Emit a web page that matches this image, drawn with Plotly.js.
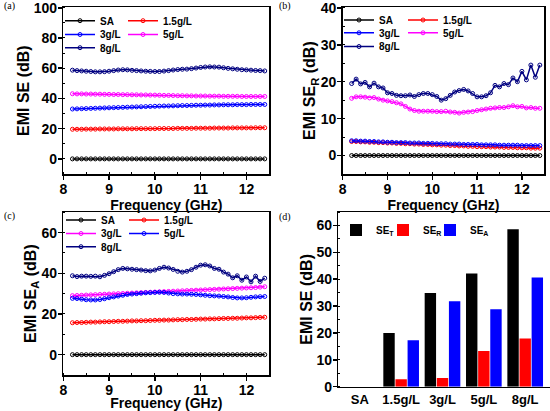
<!DOCTYPE html>
<html><head><meta charset="utf-8">
<script src="https://cdn.plot.ly/plotly-3.0.1.min.js"></script>
<style>html,body{margin:0;padding:0;background:#fff}#chart{width:550px;height:411px}</style>
</head><body><div id="chart"></div>
<script>
// ---- data ----
const freq = [8.2,8.3,8.4,8.5,8.6,8.7,8.8,8.9,9.0,9.1,
  9.2,9.3,9.4,9.5,9.6,9.7,9.8,9.9,10.0,10.1,
  10.2,10.3,10.4,10.5,10.6,10.7,10.8,10.9,11.0,11.1,
  11.2,11.3,11.4,11.5,11.6,11.7,11.8,11.9,12.0,12.1,
  12.2,12.3,12.4];
const seZeroSA = [0,0,0,0,0,0,0,0,0,0, 0,0,0,0,0,0,0,0,0,0, 0,0,0,0,0,0,0,0,0,0, 0,0,0,0,0,0,0,0,0,0, 0,0,0];

// (a) total EMI SE
const aSE15 = [19.6,19.6,19.6,19.7,19.7,19.7,19.8,19.8,19.8,19.8,
  19.9,19.9,19.9,19.9,20.0,20.0,20.0,20.0,20.0,20.1,
  20.1,20.1,20.1,20.2,20.2,20.2,20.2,20.3,20.3,20.3,
  20.3,20.4,20.4,20.4,20.4,20.5,20.5,20.5,20.5,20.5,
  20.6,20.6,20.6];
const aSE3 = [33.0,33.1,33.2,33.3,33.4,33.5,33.6,33.7,33.8,33.9,
  34.0,34.1,34.2,34.3,34.4,34.5,34.6,34.7,34.8,34.9,
  35.0,35.0,35.1,35.2,35.3,35.3,35.4,35.5,35.5,35.6,
  35.6,35.7,35.7,35.8,35.8,35.8,35.9,35.9,35.9,36.0,
  36.0,36.0,36.0];
const aSE5 = [43.1,43.0,43.0,42.9,42.9,42.8,42.8,42.7,42.7,42.6,
  42.6,42.5,42.5,42.4,42.4,42.3,42.3,42.2,42.2,42.1,
  42.0,42.0,41.9,41.8,41.8,41.7,41.7,41.6,41.6,41.6,
  41.5,41.5,41.5,41.4,41.4,41.4,41.4,41.3,41.3,41.3,
  41.3,41.3,41.3];
const aSE8 = [58.7,58.4,58.2,58.0,57.8,57.6,57.6,57.7,58.0,58.4,
  58.8,59.0,58.9,58.6,58.4,58.2,58.0,57.9,57.8,57.8,
  58.1,58.4,58.8,59.1,59.3,59.4,59.7,60.1,60.5,60.8,
  60.9,60.8,60.7,60.3,59.9,59.6,59.3,59.0,58.9,58.7,
  58.5,58.4,58.2];

// (b) SE_R
const bSER15 = [3.8,3.8,3.7,3.7,3.6,3.6,3.5,3.5,3.4,3.4,
  3.3,3.3,3.2,3.2,3.1,3.1,3.0,3.0,2.9,2.9,
  2.8,2.8,2.7,2.7,2.6,2.6,2.5,2.5,2.4,2.4,
  2.4,2.3,2.3,2.3,2.2,2.2,2.2,2.1,2.1,2.1,
  2.0,2.0,2.0];
const bSER3 = [4.0,4.0,3.9,3.9,3.8,3.8,3.7,3.7,3.6,3.6,
  3.5,3.5,3.5,3.4,3.4,3.4,3.3,3.3,3.3,3.2,
  3.2,3.2,3.1,3.1,3.1,3.0,3.0,3.0,3.0,2.9,
  2.9,2.9,2.9,2.8,2.8,2.8,2.8,2.8,2.7,2.7,
  2.7,2.7,2.7];
const bSER5 = [15.5,15.9,15.9,15.8,15.6,15.7,15.3,15.0,14.8,14.6,
  14.3,14.0,13.3,12.6,12.2,12.0,12.0,12.0,12.0,11.9,
  11.9,12.0,11.8,11.7,11.5,11.7,11.8,11.9,12.2,12.4,
  12.6,12.8,12.9,13.0,13.0,13.2,13.5,13.2,13.3,12.9,
  13.0,12.8,12.8];
const bSER8 = [19.5,20.7,19.4,19.8,18.6,19.6,18.6,18.3,17.0,16.8,
  16.3,16.2,16.2,16.4,16.0,16.5,16.8,16.8,16.5,16.0,
  15.0,15.4,16.3,17.2,17.6,17.9,17.5,16.8,15.9,15.9,
  16.2,17.0,19.0,18.6,19.5,19.2,21.0,20.0,22.8,20.5,
  24.5,21.2,24.5];

// (c) SE_A
const cSEA15 = [15.7,15.8,15.8,15.9,16.0,16.0,16.1,16.2,16.2,16.3,
  16.4,16.4,16.5,16.6,16.6,16.7,16.7,16.8,16.9,16.9,
  17.0,17.0,17.1,17.2,17.2,17.3,17.3,17.4,17.5,17.5,
  17.6,17.6,17.7,17.8,17.8,17.9,17.9,18.0,18.1,18.1,
  18.2,18.3,18.4];
const cSEA3 = [29.0,29.1,29.2,29.3,29.4,29.5,29.6,29.7,29.8,29.9,
  30.0,30.1,30.2,30.3,30.4,30.5,30.6,30.7,30.8,30.9,
  31.0,31.1,31.2,31.3,31.4,31.5,31.6,31.7,31.8,31.9,
  32.0,32.1,32.2,32.3,32.4,32.5,32.6,32.7,32.8,32.9,
  33.0,33.2,33.4];
const cSEA5 = [27.7,27.6,27.3,27.0,26.9,26.9,27.1,27.5,28.0,28.4,
  28.8,29.2,29.6,29.8,30.0,30.2,30.4,30.5,30.6,30.7,
  30.6,30.3,30.0,29.9,29.8,29.8,29.7,29.6,29.4,29.2,
  29.0,28.9,28.8,28.6,28.4,28.1,27.9,27.9,28.0,28.2,
  28.4,28.5,28.6];
const cSEA8 = [38.8,38.4,38.6,38.6,38.5,38.6,38.3,39.0,39.8,40.8,
  41.8,42.4,42.2,42.0,41.8,41.6,41.3,41.2,41.6,42.4,
  43.0,42.6,41.9,41.0,40.6,41.0,41.8,43.0,44.0,44.2,
  43.6,42.4,42.0,40.6,39.6,37.8,38.8,36.6,38.2,35.8,
  38.6,36.0,37.6];

// (d) averages
const samples = ['SA','1.5g/L','3g/L','5g/L','8g/L'];
const barSET = [0, 20.0, 34.9, 42.1, 58.6];
const barSER = [0, 2.8, 3.2, 13.3, 17.9];
const barSEA = [0, 17.3, 31.8, 28.8, 40.6];

// ---- styling ----
const FONT = 'Liberation Sans, Arial, sans-serif';
const C = {black:'#000000', red:'#ff0000', blue:'#0000ff', mag:'#ff00ff', navy:'#000080'};

function line(y, name, color, xa, ya, leg, lw){
  const t = {type:'scatter', mode:'lines+markers', x:freq, y:y, name:name, xaxis:xa, yaxis:ya, legend:leg,
    line:{color:color, width:1.5},
    marker:{symbol:'circle-open', size:4, color:color, line:{width:1, color:color}}};
  if (lw) t.legendwidth = lw;
  return t;
}
const traces = [
  line(seZeroSA,'SA',C.black,'x','y','legend'),
  line(aSE15,'1.5g/L',C.red,'x','y','legend',40),
  line(aSE3,'3g/L',C.blue,'x','y','legend2'),
  line(aSE5,'5g/L',C.mag,'x','y','legend2',40),
  line(aSE8,'8g/L',C.navy,'x','y','legend3',40),

  line(seZeroSA,'SA',C.black,'x2','y2','legend4'),
  line(bSER15,'1.5g/L',C.red,'x2','y2','legend4',40),
  line(bSER3,'3g/L',C.blue,'x2','y2','legend5'),
  line(bSER5,'5g/L',C.mag,'x2','y2','legend5',40),
  line(bSER8,'8g/L',C.navy,'x2','y2','legend6',40),

  line(seZeroSA,'SA',C.black,'x3','y3','legend7'),
  line(cSEA15,'1.5g/L',C.red,'x3','y3','legend7',40),
  line(cSEA3,'3g/L',C.mag,'x3','y3','legend8'),
  line(cSEA5,'5g/L',C.blue,'x3','y3','legend8',40),
  line(cSEA8,'8g/L',C.navy,'x3','y3','legend9',40),

  {type:'bar', x:samples, y:barSET, name:'SE<sub>T</sub>', marker:{color:C.black}, xaxis:'x4', yaxis:'y4', legend:'legend10'},
  {type:'bar', x:samples, y:barSER, name:'SE<sub>R</sub>', marker:{color:C.red}, xaxis:'x4', yaxis:'y4', legend:'legend10'},
  {type:'bar', x:samples, y:barSEA, name:'SE<sub>A</sub>', marker:{color:C.blue}, xaxis:'x4', yaxis:'y4', legend:'legend10', legendwidth:30}
];

const W = 550, H = 411;
const px = v => v / W, py = v => 1 - v / H;

function fx(d, anchor){
  return {domain:d, anchor:anchor, range:[8,12.5], tick0:8, dtick:1,
    showline:true, linewidth:1.5, linecolor:'#000', mirror:true,
    ticks:'outside', ticklen:4, tickwidth:1.5, tickcolor:'#000', ticklabelstandoff:-2,
    minor:{ticks:'inside', dtick:0.5, ticklen:2, tickwidth:1, tickcolor:'#000'},
    showgrid:false, zeroline:false,
    tickfont:{family:FONT, size:14, weight:'bold', color:'#000'},
    title:{text:'Frequency (GHz)', standoff:0, font:{family:FONT, size:14, weight:'bold', color:'#000'}}};
}
function fy(d, anchor, range, dtick, mdt, title){
  return {domain:d, anchor:anchor, range:range, tick0:0, dtick:dtick,
    showline:true, linewidth:1.5, linecolor:'#000', mirror:true,
    ticks:'outside', ticklen:4, tickwidth:1.5, tickcolor:'#000', ticklabeloverflow:'allow', ticklabelstandoff:-2,
    minor:{ticks:'inside', dtick:mdt, ticklen:2, tickwidth:1, tickcolor:'#000'},
    showgrid:false, zeroline:false,
    tickfont:{family:FONT, size:14, weight:'bold', color:'#000'},
    title:{text:title, standoff:0, font:{family:FONT, size:16, weight:'bold', color:'#000'}}};
}
function leg(xpx, ypx, ew){
  return {x:px(xpx), y:py(ypx), xanchor:'left', yanchor:'middle', orientation:'h',
    entrywidth:ew, bgcolor:'rgba(0,0,0,0)', borderwidth:0,
    font:{family:FONT, size:10, weight:'bold', color:'#000'}};
}

const rowA = [20.7, 34.5, 47.7], rowB = [20.0, 32.8, 46.5], rowC = [220.0, 233.5, 246.7];

const layout = {
  width:W, height:H, margin:{l:0,r:0,t:0,b:0},
  paper_bgcolor:'#fff', plot_bgcolor:'#fff',
  font:{family:FONT, color:'#000', weight:'bold'},
  showlegend:true,
  barmode:'group', bargap:0.12, bargroupgap:0.06,
  xaxis: fx([px(63.3), px(269.3)], 'y'),
  yaxis: fy([py(174), py(7.3)], 'x', [-10,100.3], 20, 10, 'EMI SE (dB)'),
  xaxis2: fx([px(342.7), px(544.3)], 'y2'),
  yaxis2: fy([py(174), py(7.3)], 'x2', [-5,40.15], 10, 5, 'EMI SE<sub>R</sub> (dB)'),
  xaxis3: fx([px(63.3), px(269.3)], 'y3'),
  yaxis3: fy([py(375), py(212.3)], 'x3', [-10,70], 20, 10, 'EMI SE<sub>A</sub> (dB)'),
  xaxis4: {domain:[px(338.3), 1], anchor:'y4', type:'category', range:[-0.52, 4.6],
    showline:true, linewidth:1.5, linecolor:'#000', mirror:true, ticks:'', showgrid:false, zeroline:false,
    tickfont:{family:FONT, size:13, weight:'bold', color:'#000'}},
  yaxis4: Object.assign(fy([py(386.7), py(212)], 'x4', [0,65], 10, 5, 'EMI SE (dB)'), {mirror:false}),
  legend:  leg(60, rowA[0], 18),
  legend2: leg(60, rowA[1], 18),
  legend3: leg(60, rowA[2], 18),
  legend4: leg(339, rowB[0], 19),
  legend5: leg(339, rowB[1], 19),
  legend6: leg(339, rowB[2], 19),
  legend7: leg(61, rowC[0], 18),
  legend8: leg(61, rowC[1], 18),
  legend9: leg(61, rowC[2], 18),
  legend10: leg(336, 230, 2),
  annotations: [
    {text:'(a)', x:px(2), y:py(6), xref:'paper', yref:'paper', xanchor:'left', yanchor:'middle', showarrow:false, font:{family:'Liberation Serif, serif', size:10, weight:'normal', color:'#000'}},
    {text:'(b)', x:px(277), y:py(6), xref:'paper', yref:'paper', xanchor:'left', yanchor:'middle', showarrow:false, font:{family:'Liberation Serif, serif', size:10, weight:'normal', color:'#000'}},
    {text:'(c)', x:px(2), y:py(216), xref:'paper', yref:'paper', xanchor:'left', yanchor:'middle', showarrow:false, font:{family:'Liberation Serif, serif', size:10, weight:'normal', color:'#000'}},
    {text:'(d)', x:px(277), y:py(217), xref:'paper', yref:'paper', xanchor:'left', yanchor:'middle', showarrow:false, font:{family:'Liberation Serif, serif', size:10, weight:'normal', color:'#000'}}
  ]
};

Plotly.newPlot('chart', traces, layout, {displayModeBar:false, staticPlot:true});
</script>
</body></html>
